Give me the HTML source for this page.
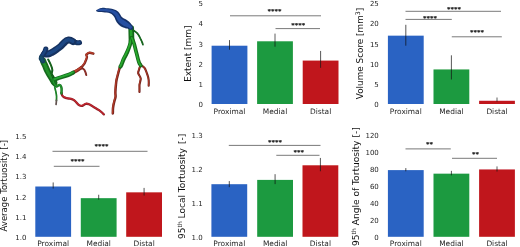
<!DOCTYPE html>
<html><head><meta charset="utf-8"><title>Figure</title>
<style>
html,body{margin:0;padding:0;background:#fff;}
body{width:520px;height:247px;overflow:hidden;}
svg{display:block;font-family:"DejaVu Sans","Liberation Sans",sans-serif;}
</style></head><body>
<svg width="520" height="247" viewBox="0 0 520 247">
<defs><filter id="soft" x="-2%" y="-2%" width="104%" height="104%"><feGaussianBlur stdDeviation="0.45"/></filter><filter id="soft2" x="-5%" y="-50%" width="110%" height="200%"><feGaussianBlur stdDeviation="0.25"/></filter></defs>
<rect width="520" height="247" fill="#ffffff"/>
<g filter="url(#soft)">
<g fill="none" stroke-linecap="round" stroke-linejoin="round">
<path d="M71.5 73.8 C75 71.9 79 69.4 82.3 66.4 S86 59.9 86.8 57.9 S85.5 55.4 86.5 54.5 S89 52.7 89.7 52.7 S92 53.2 93.4 53.7" stroke="#7e2820" stroke-width="2.4"/>
<path d="M71.5 73.8 C75 71.9 79 69.4 82.3 66.4 S86 59.9 86.8 57.9 S85.5 55.4 86.5 54.5 S89 52.7 89.7 52.7 S92 53.2 93.4 53.7" stroke="#bc3e2b" stroke-width="1.20" transform="translate(-0.25,-0.3)"/>
<path d="M80.5 68.2 C82 68.1 83.5 68.5 84.3 69.7 S85.9 72.9 86.3 75.1" stroke="#7a2a26" stroke-width="1.9"/>
<path d="M80.5 68.2 C82 68.1 83.5 68.5 84.3 69.7 S85.9 72.9 86.3 75.1" stroke="#9c352c" stroke-width="0.95" transform="translate(-0.25,-0.3)"/>
<path d="M61.5 92.8 C61.7 95 62.3 96.3 63.5 96.9 C65 97.7 66.2 98.1 67.6 98.4 S70.8 98.8 72.4 99.3 S74.6 100.6 75.7 101.7 S77.8 104.3 79 105.1 S81.2 106.2 82.4 105.8 S84.6 104 85.8 103.8 S87.9 103.8 89 104.3 S91.8 105.9 93.2 106.7 S96 108.4 97.3 109.2 S99.2 110.3 100 110.9 S102.6 112.9 103.9 114.4" stroke="#8e2028" stroke-width="2.3"/>
<path d="M61.5 92.8 C61.7 95 62.3 96.3 63.5 96.9 C65 97.7 66.2 98.1 67.6 98.4 S70.8 98.8 72.4 99.3 S74.6 100.6 75.7 101.7 S77.8 104.3 79 105.1 S81.2 106.2 82.4 105.8 S84.6 104 85.8 103.8 S87.9 103.8 89 104.3 S91.8 105.9 93.2 106.7 S96 108.4 97.3 109.2 S99.2 110.3 100 110.9 S102.6 112.9 103.9 114.4" stroke="#c4262e" stroke-width="1.15" transform="translate(-0.25,-0.3)"/>
<path d="M72.8 72.8 C75.5 71.5 78.5 69.9 81.3 67.7" stroke="#7e2820" stroke-width="3.3"/>
<path d="M72.8 72.8 C75.5 71.5 78.5 69.9 81.3 67.7" stroke="#bc3e2b" stroke-width="1.65" transform="translate(-0.25,-0.3)"/>
<path d="M53 80.5 C53.6 82.3 54.3 84 55.2 85.2" stroke="#156a1e" stroke-width="3.6"/>
<path d="M53 80.5 C53.6 82.3 54.3 84 55.2 85.2" stroke="#22912c" stroke-width="1.80" transform="translate(-0.25,-0.3)"/>
<path d="M43.0 60.6 C43.4 62 44.1 63.5 44.9 65 S46.1 68.3 47 70 S48.8 73.7 49.9 75.4 S51.6 78 52.4 79.3 S53.6 81.5 54.2 82.6" stroke="#156a1e" stroke-width="6.3"/>
<path d="M43.0 60.6 C43.4 62 44.1 63.5 44.9 65 S46.1 68.3 47 70 S48.8 73.7 49.9 75.4 S51.6 78 52.4 79.3 S53.6 81.5 54.2 82.6" stroke="#22912c" stroke-width="2.83" transform="translate(-0.25,-0.3)"/>
<path d="M48.2 59.5 C49.3 61.5 50.3 63.3 50.9 65 S52.5 68.5 52.4 70.2 S51.5 73 51.7 74.2 S52.7 76.4 53.3 77.5" stroke="#0f5216" stroke-width="1.9"/>
<path d="M48.2 59.5 C49.3 61.5 50.3 63.3 50.9 65 S52.5 68.5 52.4 70.2 S51.5 73 51.7 74.2 S52.7 76.4 53.3 77.5" stroke="#18701f" stroke-width="0.95" transform="translate(-0.25,-0.3)"/>
<path d="M53.6 79.9 C56.5 78.9 59 78 61.6 77.2 S66 75.8 68.2 75 S71.5 73.4 73.2 72.6" stroke="#156a1e" stroke-width="4.0"/>
<path d="M53.6 79.9 C56.5 78.9 59 78 61.6 77.2 S66 75.8 68.2 75 S71.5 73.4 73.2 72.6" stroke="#27a733" stroke-width="1.80" transform="translate(-0.25,-0.3)"/>
<path d="M53.2 80.8 C53.6 82.5 54.2 84 55 84.9 S56 86.6 56.6 86.5 S58.3 84.9 59.5 85 S61 86.2 61.4 87.4 S61.7 90 61.6 91.3 S61.5 93 61.5 93.6" stroke="#156a1e" stroke-width="2.4"/>
<path d="M53.2 80.8 C53.6 82.5 54.2 84 55 84.9 S56 86.6 56.6 86.5 S58.3 84.9 59.5 85 S61 86.2 61.4 87.4 S61.7 90 61.6 91.3 S61.5 93 61.5 93.6" stroke="#239a2e" stroke-width="1.20" transform="translate(-0.25,-0.3)"/>
<path d="M54.7 87.3 C55.2 89 55.6 90.5 55.9 92 S56.6 95 56.6 96.5 S56.6 99.5 56.5 100.8" stroke="#156a1e" stroke-width="1.6"/>
<path d="M54.7 87.3 C55.2 89 55.6 90.5 55.9 92 S56.6 95 56.6 96.5 S56.6 99.5 56.5 100.8" stroke="#239a2e" stroke-width="0.80" transform="translate(-0.25,-0.3)"/>
<path d="M56.5 100.3 C56.5 101.8 56.3 103.2 56.1 104.6" stroke="#5a4a48" stroke-width="1.5"/>
<path d="M56.5 100.3 C56.5 101.8 56.3 103.2 56.1 104.6" stroke="#6f5f5c" stroke-width="0.75" transform="translate(-0.25,-0.3)"/>
<path d="M79.6 42.6 C78.3 43 77 42.8 75.8 42.4 S73.5 41.4 72.3 41.2" stroke="#14315f" stroke-width="4.9"/>
<path d="M79.6 42.6 C78.3 43 77 42.8 75.8 42.4 S73.5 41.4 72.3 41.2" stroke="#1d4683" stroke-width="2.45" transform="translate(-0.25,-0.3)"/>
<path d="M73 41.6 C71.5 40.6 70 39.8 68.6 40 S65.8 41 64.6 42.2 S62 45.1 60.8 46.2 S58 48.4 56.6 49.4 S53.5 51.6 52 52.4 S49.5 53.9 48 54.1 S45.8 53.9 44.8 53.9" stroke="#14315f" stroke-width="6.9"/>
<path d="M73 41.6 C71.5 40.6 70 39.8 68.6 40 S65.8 41 64.6 42.2 S62 45.1 60.8 46.2 S58 48.4 56.6 49.4 S53.5 51.6 52 52.4 S49.5 53.9 48 54.1 S45.8 53.9 44.8 53.9" stroke="#1d4683" stroke-width="3.45" transform="translate(-0.25,-0.3)"/>
<path d="M45.8 49.0 C45.5 51.5 44 53.5 42.8 55 S41.3 57 41.3 58.2" stroke="#14315f" stroke-width="5.2"/>
<path d="M45.8 49.0 C45.5 51.5 44 53.5 42.8 55 S41.3 57 41.3 58.2" stroke="#1b447e" stroke-width="2.60" transform="translate(-0.25,-0.3)"/>
<path d="M41.5 57.8 C41.8 59 42.2 60 42.7 61" stroke="#154060" stroke-width="5.0"/>
<path d="M41.5 57.8 C41.8 59 42.2 60 42.7 61" stroke="#19506a" stroke-width="2.50" transform="translate(-0.25,-0.3)"/>
<path d="M120.4 65.8 C119.8 67.5 119 70 118.3 73 S117.1 77.5 116.6 79.6 S116 84 115.8 86.2 S115.5 90 115.4 92 S115.7 95 115.6 96.5 S114.9 99.3 114.5 100.8 S113.7 104 113.4 105.5 S112.9 108.8 112.9 110.3 S112.9 112.4 112.8 113.4" stroke="#74241e" stroke-width="2.5"/>
<path d="M120.4 65.8 C119.8 67.5 119 70 118.3 73 S117.1 77.5 116.6 79.6 S116 84 115.8 86.2 S115.5 90 115.4 92 S115.7 95 115.6 96.5 S114.9 99.3 114.5 100.8 S113.7 104 113.4 105.5 S112.9 108.8 112.9 110.3 S112.9 112.4 112.8 113.4" stroke="#b23a28" stroke-width="1.25" transform="translate(-0.25,-0.3)"/>
<path d="M141 64.5 C140.3 66 139.7 67 139.5 68.2 S137.8 72.2 138.2 73.4 S140.8 77.2 140.8 78.7 S139.5 83.5 139.5 85.3 S139.6 90 139.5 92" stroke="#6e221c" stroke-width="2.1"/>
<path d="M141 64.5 C140.3 66 139.7 67 139.5 68.2 S137.8 72.2 138.2 73.4 S140.8 77.2 140.8 78.7 S139.5 83.5 139.5 85.3 S139.6 90 139.5 92" stroke="#a63626" stroke-width="1.05" transform="translate(-0.25,-0.3)"/>
<path d="M141.5 65.5 C142.8 66.5 143.8 67 144.7 68.2 S146.8 73 147.4 74.7 S148.6 78.5 148.7 80 S148.8 83.8 148.7 85.7" stroke="#6e221c" stroke-width="2.1"/>
<path d="M141.5 65.5 C142.8 66.5 143.8 67 144.7 68.2 S146.8 73 147.4 74.7 S148.6 78.5 148.7 80 S148.8 83.8 148.7 85.7" stroke="#a63626" stroke-width="1.05" transform="translate(-0.25,-0.3)"/>
<path d="M131.2 28.2 C131.3 32 131.4 36 131.5 41" stroke="#15691c" stroke-width="5.7"/>
<path d="M131.2 28.2 C131.3 32 131.4 36 131.5 41" stroke="#25a32a" stroke-width="2.56" transform="translate(-0.25,-0.3)"/>
<path d="M131.3 38 C131 40.5 130.6 42.8 129.9 45 S128.3 49.5 127.4 51.6 S125.2 56.2 124.1 58.2 S122.3 62.8 121.4 64.9 S120.7 66 120.4 66.6" stroke="#15691c" stroke-width="4.0"/>
<path d="M131.3 38 C131 40.5 130.6 42.8 129.9 45 S128.3 49.5 127.4 51.6 S125.2 56.2 124.1 58.2 S122.3 62.8 121.4 64.9 S120.7 66 120.4 66.6" stroke="#29ab2d" stroke-width="1.80" transform="translate(-0.25,-0.3)"/>
<path d="M132 38 C132.8 40 133.5 41.8 134 43.3 S135.3 48.2 135.7 50 S137 54.8 137.4 56.6 S138.5 60.8 139 62.4 S140.2 64.7 140.9 65.6" stroke="#15691c" stroke-width="3.7"/>
<path d="M132 38 C132.8 40 133.5 41.8 134 43.3 S135.3 48.2 135.7 50 S137 54.8 137.4 56.6 S138.5 60.8 139 62.4 S140.2 64.7 140.9 65.6" stroke="#29ab2d" stroke-width="1.67" transform="translate(-0.25,-0.3)"/>
<path d="M133.2 30.2 C134.6 31 136.2 32 137.4 33.3 S139.2 36 139.9 37.5 S141.1 39.7 141.5 40.8 S142.6 43 142.9 44.6" stroke="#0f5216" stroke-width="1.7"/>
<path d="M133.2 30.2 C134.6 31 136.2 32 137.4 33.3 S139.2 36 139.9 37.5 S141.1 39.7 141.5 40.8 S142.6 43 142.9 44.6" stroke="#1a7a24" stroke-width="0.85" transform="translate(-0.25,-0.3)"/>
</g>
<path d="M96.00 10.60 C96.17 10.13 97.57 9.33 98.50 8.90 C99.43 8.47 100.52 8.17 101.60 8.00 C102.68 7.83 103.88 7.85 105.00 7.90 C106.12 7.95 107.17 8.15 108.30 8.30 C109.43 8.45 110.70 8.55 111.80 8.80 C112.90 9.05 113.98 9.43 114.90 9.80 C115.82 10.17 116.60 10.50 117.30 11.00 C118.00 11.50 118.58 12.17 119.10 12.80 C119.62 13.43 119.98 14.13 120.40 14.80 C120.82 15.47 121.08 16.23 121.60 16.80 C122.12 17.37 122.82 17.78 123.50 18.20 C124.18 18.62 124.97 18.87 125.70 19.30 C126.43 19.73 127.20 20.25 127.90 20.80 C128.60 21.35 129.28 21.98 129.90 22.60 C130.52 23.22 131.12 23.83 131.60 24.50 C132.08 25.17 132.52 25.97 132.80 26.60 C133.08 27.23 133.33 27.80 133.30 28.30 C133.27 28.80 132.98 29.32 132.60 29.60 C132.22 29.88 131.55 30.00 131.00 30.00 C130.45 30.00 129.90 29.83 129.30 29.60 C128.70 29.37 128.07 28.83 127.40 28.60 C126.73 28.37 126.00 28.37 125.30 28.20 C124.60 28.03 123.92 27.88 123.20 27.60 C122.48 27.32 121.68 26.93 121.00 26.50 C120.32 26.07 119.72 25.58 119.10 25.00 C118.48 24.42 117.83 23.70 117.30 23.00 C116.77 22.30 116.32 21.63 115.90 20.80 C115.48 19.97 115.23 18.83 114.80 18.00 C114.37 17.17 113.80 16.43 113.30 15.80 C112.80 15.17 112.37 14.63 111.80 14.20 C111.23 13.77 110.78 13.47 109.90 13.20 C109.02 12.93 107.60 12.77 106.50 12.60 C105.40 12.43 104.38 12.30 103.30 12.20 C102.22 12.10 100.97 12.08 100.00 12.00 C99.03 11.92 98.17 11.93 97.50 11.70 C96.83 11.47 95.83 11.07 96.00 10.60 Z" fill="#16326b"/>
<path d="M98.20 9.51 C98.77 9.15 100.12 8.97 101.18 8.85 C102.24 8.73 103.45 8.75 104.56 8.81 C105.67 8.87 106.71 9.06 107.84 9.21 C108.97 9.36 110.26 9.48 111.32 9.73 C112.38 9.98 113.33 10.35 114.18 10.73 C115.03 11.11 115.74 11.48 116.40 12.01 C117.06 12.54 117.64 13.22 118.14 13.89 C118.64 14.56 118.98 15.35 119.40 16.05 C119.82 16.75 120.12 17.50 120.64 18.09 C121.16 18.68 121.85 19.16 122.52 19.61 C123.19 20.06 123.94 20.36 124.66 20.79 C125.38 21.22 126.16 21.71 126.86 22.21 C127.56 22.71 128.25 23.24 128.88 23.77 C129.51 24.30 130.14 24.79 130.66 25.37 C131.18 25.95 132.08 26.67 132.00 27.25 C131.92 27.83 130.77 28.80 130.18 28.85 C129.58 28.90 129.07 27.92 128.45 27.58 C127.83 27.23 127.13 27.08 126.45 26.80 C125.77 26.52 125.09 26.25 124.38 25.90 C123.66 25.55 122.87 25.13 122.17 24.70 C121.48 24.27 120.83 23.84 120.20 23.30 C119.57 22.76 118.90 22.12 118.38 21.45 C117.85 20.78 117.44 20.09 117.03 19.30 C116.61 18.51 116.33 17.48 115.88 16.70 C115.42 15.92 114.85 15.20 114.30 14.60 C113.75 14.00 113.23 13.52 112.57 13.10 C111.92 12.68 111.31 12.36 110.38 12.10 C109.44 11.84 108.06 11.69 106.95 11.52 C105.84 11.36 104.82 11.21 103.72 11.12 C102.63 11.04 101.40 11.02 100.40 11.00 C99.40 10.98 98.12 11.25 97.75 11.00 C97.38 10.75 97.63 9.87 98.20 9.51 Z" fill="#2650a2"/>
<g>
<rect x="211.60" y="45.71" width="35.80" height="58.29" fill="#2b63c3"/>
<rect x="257.10" y="41.29" width="35.80" height="62.71" fill="#1c9a40"/>
<rect x="302.70" y="60.58" width="35.80" height="43.42" fill="#c0191d"/>
<line x1="229.50" x2="229.50" y1="40.08" y2="49.73" stroke="#111" stroke-opacity="0.75" stroke-width="0.95"/>
<line x1="275.00" x2="275.00" y1="33.65" y2="46.71" stroke="#111" stroke-opacity="0.75" stroke-width="0.95"/>
<line x1="320.60" x2="320.60" y1="50.94" y2="67.82" stroke="#111" stroke-opacity="0.75" stroke-width="0.95"/>
<text x="203.00" y="107.15" font-size="7.0" text-anchor="end" fill="#262626">0</text>
<text x="203.00" y="86.95" font-size="7.0" text-anchor="end" fill="#262626">1</text>
<text x="203.00" y="66.75" font-size="7.0" text-anchor="end" fill="#262626">2</text>
<text x="203.00" y="46.55" font-size="7.0" text-anchor="end" fill="#262626">3</text>
<text x="203.00" y="26.35" font-size="7.0" text-anchor="end" fill="#262626">4</text>
<text x="203.00" y="6.15" font-size="7.0" text-anchor="end" fill="#262626">5</text>
<text x="229.50" y="113.60" font-size="7.45" text-anchor="middle" fill="#262626">Proximal</text>
<text x="275.00" y="113.60" font-size="7.45" text-anchor="middle" fill="#262626">Medial</text>
<text x="320.60" y="113.60" font-size="7.45" text-anchor="middle" fill="#262626">Distal</text>
<text transform="translate(191.30,53.70) rotate(-90)" font-size="8.95" text-anchor="middle" fill="#111">Extent [mm]</text>
<line x1="230.00" x2="321.00" y1="15.80" y2="15.80" stroke="#6a6a6a" stroke-width="0.9"/>
<line x1="275.50" x2="320.00" y1="28.60" y2="28.60" stroke="#6a6a6a" stroke-width="0.9"/>
<rect x="387.90" y="35.66" width="35.80" height="68.34" fill="#2b63c3"/>
<rect x="433.50" y="69.43" width="35.80" height="34.57" fill="#1c9a40"/>
<rect x="479.10" y="100.78" width="35.80" height="3.22" fill="#c0191d"/>
<line x1="405.80" x2="405.80" y1="24.81" y2="45.71" stroke="#111" stroke-opacity="0.75" stroke-width="0.95"/>
<line x1="451.40" x2="451.40" y1="55.36" y2="79.48" stroke="#111" stroke-opacity="0.75" stroke-width="0.95"/>
<line x1="497.00" x2="497.00" y1="97.57" y2="101.59" stroke="#111" stroke-opacity="0.75" stroke-width="0.95"/>
<text x="378.80" y="107.15" font-size="7.0" text-anchor="end" fill="#262626">0</text>
<text x="378.80" y="86.95" font-size="7.0" text-anchor="end" fill="#262626">5</text>
<text x="378.80" y="66.75" font-size="7.0" text-anchor="end" fill="#262626">10</text>
<text x="378.80" y="46.55" font-size="7.0" text-anchor="end" fill="#262626">15</text>
<text x="378.80" y="26.35" font-size="7.0" text-anchor="end" fill="#262626">20</text>
<text x="378.80" y="6.15" font-size="7.0" text-anchor="end" fill="#262626">25</text>
<text x="405.80" y="113.60" font-size="7.45" text-anchor="middle" fill="#262626">Proximal</text>
<text x="451.40" y="113.60" font-size="7.45" text-anchor="middle" fill="#262626">Medial</text>
<text x="497.00" y="113.60" font-size="7.45" text-anchor="middle" fill="#262626">Distal</text>
<text transform="translate(363.20,53.50) rotate(-90)" font-size="8.85" text-anchor="middle" fill="#111">Volume Score [mm<tspan font-size="6.2" dy="-3.2">3</tspan><tspan dy="3.2">]</tspan></text>
<line x1="405.50" x2="501.00" y1="11.30" y2="11.30" stroke="#6a6a6a" stroke-width="0.9"/>
<line x1="405.50" x2="451.80" y1="19.40" y2="19.40" stroke="#6a6a6a" stroke-width="0.9"/>
<line x1="451.80" x2="501.80" y1="36.80" y2="36.80" stroke="#6a6a6a" stroke-width="0.9"/>
<rect x="35.30" y="186.50" width="35.80" height="50.30" fill="#2b63c3"/>
<rect x="80.80" y="198.17" width="35.80" height="38.63" fill="#1c9a40"/>
<rect x="126.20" y="192.33" width="35.80" height="44.47" fill="#c0191d"/>
<line x1="53.20" x2="53.20" y1="182.48" y2="188.51" stroke="#111" stroke-opacity="0.75" stroke-width="0.95"/>
<line x1="98.70" x2="98.70" y1="194.75" y2="199.58" stroke="#111" stroke-opacity="0.75" stroke-width="0.95"/>
<line x1="144.10" x2="144.10" y1="187.91" y2="195.55" stroke="#111" stroke-opacity="0.75" stroke-width="0.95"/>
<text x="26.50" y="239.95" font-size="7.0" text-anchor="end" fill="#262626">1.0</text>
<text x="26.50" y="219.73" font-size="7.0" text-anchor="end" fill="#262626">1.1</text>
<text x="26.50" y="199.51" font-size="7.0" text-anchor="end" fill="#262626">1.2</text>
<text x="26.50" y="179.29" font-size="7.0" text-anchor="end" fill="#262626">1.3</text>
<text x="26.50" y="159.07" font-size="7.0" text-anchor="end" fill="#262626">1.4</text>
<text x="26.50" y="138.85" font-size="7.0" text-anchor="end" fill="#262626">1.5</text>
<text x="53.20" y="245.80" font-size="7.45" text-anchor="middle" fill="#262626">Proximal</text>
<text x="98.70" y="245.80" font-size="7.45" text-anchor="middle" fill="#262626">Medial</text>
<text x="144.10" y="245.80" font-size="7.45" text-anchor="middle" fill="#262626">Distal</text>
<text transform="translate(7.30,185.70) rotate(-90)" font-size="8.5" text-anchor="middle" fill="#111">Average Tortuosity [-]</text>
<line x1="52.50" x2="147.50" y1="151.30" y2="151.30" stroke="#6a6a6a" stroke-width="0.9"/>
<line x1="53.80" x2="99.50" y1="166.30" y2="166.30" stroke="#6a6a6a" stroke-width="0.9"/>
<rect x="211.40" y="184.19" width="35.80" height="52.61" fill="#2b63c3"/>
<rect x="257.20" y="179.90" width="35.80" height="56.90" fill="#1c9a40"/>
<rect x="302.50" y="165.28" width="35.80" height="71.52" fill="#c0191d"/>
<line x1="229.30" x2="229.30" y1="181.09" y2="187.16" stroke="#111" stroke-opacity="0.75" stroke-width="0.95"/>
<line x1="275.10" x2="275.10" y1="174.16" y2="184.12" stroke="#111" stroke-opacity="0.75" stroke-width="0.95"/>
<line x1="320.40" x2="320.40" y1="157.95" y2="171.29" stroke="#111" stroke-opacity="0.75" stroke-width="0.95"/>
<text x="202.70" y="239.95" font-size="7.0" text-anchor="end" fill="#262626">1.0</text>
<text x="202.70" y="206.02" font-size="7.0" text-anchor="end" fill="#262626">1.1</text>
<text x="202.70" y="172.08" font-size="7.0" text-anchor="end" fill="#262626">1.2</text>
<text x="202.70" y="138.15" font-size="7.0" text-anchor="end" fill="#262626">1.3</text>
<text x="229.30" y="245.80" font-size="7.45" text-anchor="middle" fill="#262626">Proximal</text>
<text x="275.10" y="245.80" font-size="7.45" text-anchor="middle" fill="#262626">Medial</text>
<text x="320.40" y="245.80" font-size="7.45" text-anchor="middle" fill="#262626">Distal</text>
<text transform="translate(184.70,186.30) rotate(-90)" font-size="9.0" text-anchor="middle" fill="#111">95<tspan font-size="6" dy="-3">th</tspan><tspan dy="3"> Local Tortuosity <tspan dx="1.4">[-]</tspan></tspan></text>
<line x1="228.80" x2="320.50" y1="145.40" y2="145.40" stroke="#6a6a6a" stroke-width="0.9"/>
<line x1="276.30" x2="319.50" y1="155.30" y2="155.30" stroke="#6a6a6a" stroke-width="0.9"/>
<rect x="387.90" y="170.11" width="35.80" height="66.69" fill="#2b63c3"/>
<rect x="433.50" y="173.66" width="35.80" height="63.14" fill="#1c9a40"/>
<rect x="479.10" y="169.44" width="35.80" height="67.36" fill="#c0191d"/>
<line x1="405.80" x2="405.80" y1="168.08" y2="171.29" stroke="#111" stroke-opacity="0.75" stroke-width="0.95"/>
<line x1="451.40" x2="451.40" y1="170.87" y2="175.34" stroke="#111" stroke-opacity="0.75" stroke-width="0.95"/>
<line x1="497.00" x2="497.00" y1="166.48" y2="171.55" stroke="#111" stroke-opacity="0.75" stroke-width="0.95"/>
<text x="378.80" y="239.95" font-size="7.0" text-anchor="end" fill="#262626">0</text>
<text x="378.80" y="222.98" font-size="7.0" text-anchor="end" fill="#262626">20</text>
<text x="378.80" y="206.02" font-size="7.0" text-anchor="end" fill="#262626">40</text>
<text x="378.80" y="189.05" font-size="7.0" text-anchor="end" fill="#262626">60</text>
<text x="378.80" y="172.08" font-size="7.0" text-anchor="end" fill="#262626">80</text>
<text x="378.80" y="155.12" font-size="7.0" text-anchor="end" fill="#262626">100</text>
<text x="378.80" y="138.15" font-size="7.0" text-anchor="end" fill="#262626">120</text>
<text x="405.80" y="245.80" font-size="7.45" text-anchor="middle" fill="#262626">Proximal</text>
<text x="451.40" y="245.80" font-size="7.45" text-anchor="middle" fill="#262626">Medial</text>
<text x="497.00" y="245.80" font-size="7.45" text-anchor="middle" fill="#262626">Distal</text>
<text transform="translate(358.80,186.60) rotate(-90)" font-size="9.1" text-anchor="middle" fill="#111">95<tspan font-size="6" dy="-3">th</tspan><tspan dy="3"> Angle of Tortuosity [-]</tspan></text>
<line x1="405.50" x2="450.80" y1="148.90" y2="148.90" stroke="#6a6a6a" stroke-width="0.9"/>
<line x1="452.00" x2="497.00" y1="158.30" y2="158.30" stroke="#6a6a6a" stroke-width="0.9"/>
</g>
</g>
<g filter="url(#soft2)">
<text x="274.40" y="13.30" font-family="Liberation Serif,serif" font-weight="bold" font-size="7" text-anchor="middle" fill="#111" stroke="#111" stroke-width="0.15">****</text>
<text x="298.20" y="26.60" font-family="Liberation Serif,serif" font-weight="bold" font-size="7" text-anchor="middle" fill="#111" stroke="#111" stroke-width="0.15">****</text>
<text x="454.00" y="10.50" font-family="Liberation Serif,serif" font-weight="bold" font-size="7" text-anchor="middle" fill="#111" stroke="#111" stroke-width="0.15">****</text>
<text x="430.00" y="19.50" font-family="Liberation Serif,serif" font-weight="bold" font-size="7" text-anchor="middle" fill="#111" stroke="#111" stroke-width="0.15">****</text>
<text x="477.00" y="34.30" font-family="Liberation Serif,serif" font-weight="bold" font-size="7" text-anchor="middle" fill="#111" stroke="#111" stroke-width="0.15">****</text>
<text x="101.50" y="148.00" font-family="Liberation Serif,serif" font-weight="bold" font-size="7" text-anchor="middle" fill="#111" stroke="#111" stroke-width="0.15">****</text>
<text x="77.50" y="163.20" font-family="Liberation Serif,serif" font-weight="bold" font-size="7" text-anchor="middle" fill="#111" stroke="#111" stroke-width="0.15">****</text>
<text x="275.00" y="144.20" font-family="Liberation Serif,serif" font-weight="bold" font-size="7" text-anchor="middle" fill="#111" stroke="#111" stroke-width="0.15">****</text>
<text x="298.70" y="154.00" font-family="Liberation Serif,serif" font-weight="bold" font-size="7" text-anchor="middle" fill="#111" stroke="#111" stroke-width="0.15">***</text>
<text x="429.40" y="145.50" font-family="Liberation Serif,serif" font-weight="bold" font-size="7" text-anchor="middle" fill="#111" stroke="#111" stroke-width="0.15">**</text>
<text x="475.40" y="156.20" font-family="Liberation Serif,serif" font-weight="bold" font-size="7" text-anchor="middle" fill="#111" stroke="#111" stroke-width="0.15">**</text>
</g>
</svg>
</body></html>
